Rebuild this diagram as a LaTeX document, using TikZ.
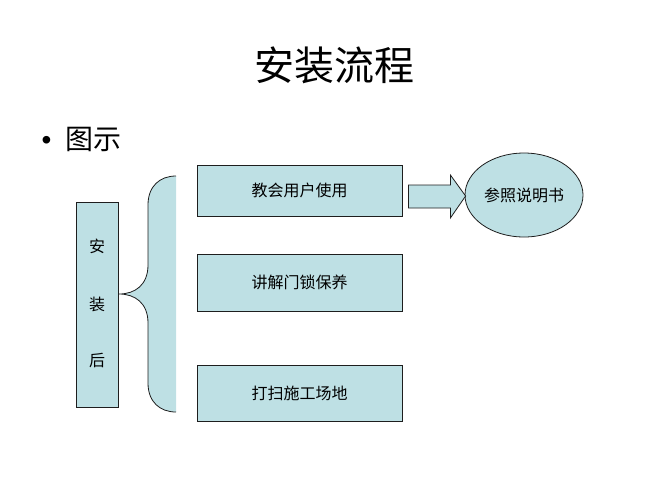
\documentclass[tikz,border=0pt]{standalone}
\usepackage{fontspec}
\usetikzlibrary{shapes.geometric,calc}
\setmainfont{Liberation Sans}
\newfontfamily\cjk{Noto Sans CJK SC}
\definecolor{boxfill}{RGB}{190,224,228}
\definecolor{lineclr}{RGB}{30,30,30}
\begin{document}
\begin{tikzpicture}[x=1pt,y=-1pt,
  boxstyle/.style={draw=lineclr,fill=boxfill,line width=0.8pt,inner sep=0pt},
  lbl/.style={font=\cjk\fontsize{16}{19}\selectfont}]
\useasboundingbox (0,0) rectangle (666,499);
\node[font=\cjk\fontsize{40}{46}\selectfont] (title) at (334,65) {安装流程};
\node[font=\fontsize{28}{32}\selectfont, anchor=west] (bullet) at (38,139) {•\hspace{14pt}\cjk 图示};
% left box
\node[boxstyle, minimum width=42pt, minimum height=205pt] (after) at (97,304.5) {};
\node[lbl] (c1) at (97,246) {安};
\node[lbl] (c2) at (97,304) {装};
\node[lbl] (c3) at (97,360) {后};
% brace
\fill[boxfill] (176,176) .. controls (160,176) and (148,186) .. (148,205) -- (148,265)
  .. controls (148,285) and (135,294) .. (119,294)
  .. controls (135,294) and (148,303) .. (148,323) -- (148,383)
  .. controls (148,402) and (160,412) .. (176,412) -- cycle;
\draw[lineclr,line width=0.8pt] (176,176) .. controls (160,176) and (148,186) .. (148,205) -- (148,265)
  .. controls (148,285) and (135,294) .. (119,294)
  .. controls (135,294) and (148,303) .. (148,323) -- (148,383)
  .. controls (148,402) and (160,412) .. (176,412);
% right boxes
\node[boxstyle, minimum width=205pt, minimum height=51pt, lbl] (b1) at (299.5,190.5) {教会用户使用};
\node[boxstyle, minimum width=205pt, minimum height=57pt, lbl] (b2) at (299.5,282.5) {讲解门锁保养};
\node[boxstyle, minimum width=205pt, minimum height=56pt, lbl] (b3) at (299.5,393) {打扫施工场地};
% ellipse
\node[boxstyle, ellipse, minimum width=118pt, minimum height=84pt, lbl] (manual) at (524,195) {参照说明书};
% block arrow
\draw[boxstyle] ($(b1.east)+(6,-5.5)$) -- ++(42,0) -- ++(0,-10) -- ($(manual.west)+(1,1)$) -- ($(b1.east)+(48,27.5)$) -- ++(0,-10) -- ($(b1.east)+(6,17.5)$) -- cycle;
\end{tikzpicture}
\end{document}
